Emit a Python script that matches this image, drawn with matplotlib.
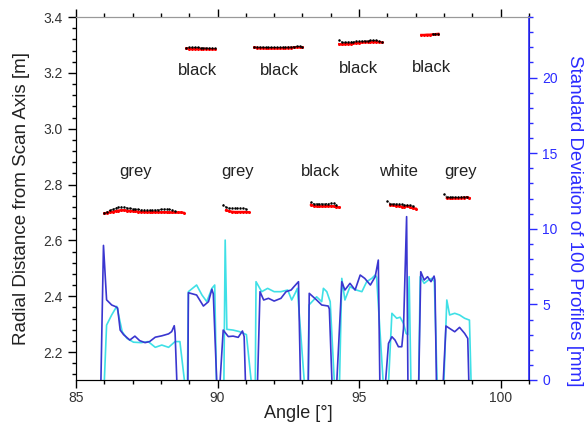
import numpy as np
import matplotlib
matplotlib.use('Agg')
import matplotlib.pyplot as plt
from matplotlib.ticker import MultipleLocator

plt.rcParams['font.family'] = ['Liberation Sans', 'DejaVu Sans']

# radial distance clusters: (start angle, step 0.1 deg, values)
black_clusters = [
    (86.0, [2.698, 2.703, 2.708, 2.712, 2.716, 2.719, 2.720, 2.719, 2.717, 2.715, 2.713, 2.712, 2.711,
            2.710, 2.709, 2.708, 2.708, 2.708, 2.709, 2.710, 2.711, 2.712, 2.712, 2.711, 2.709, 2.706]),
    (90.2, [2.728, 2.718, 2.716, 2.715, 2.715, 2.715, 2.715, 2.715, 2.714]),
    (93.3, [2.737, 2.732, 2.731, 2.731, 2.731, 2.731, 2.732, 2.733, 2.733, 2.728]),
    (96.0, [2.741, 2.732, 2.731, 2.731, 2.730, 2.729, 2.727, 2.726, 2.726, 2.722]),
    (98.0, [2.766, 2.756, 2.755, 2.755, 2.755, 2.755, 2.756, 2.757, 2.757]),
    (88.9, [3.290, 3.291, 3.291, 3.291, 3.291, 3.290, 3.290, 3.289, 3.289, 3.289, 3.288]),
    (91.3, [3.292, 3.292, 3.292, 3.292, 3.291, 3.291, 3.291, 3.291, 3.291, 3.291, 3.292, 3.292,
            3.293, 3.293, 3.294, 3.295, 3.295, 3.293]),
    (94.3, [3.318, 3.309, 3.309, 3.310, 3.311, 3.312, 3.313, 3.313, 3.314, 3.315, 3.315, 3.316,
            3.316, 3.316, 3.314, 3.311]),
    (97.6, [3.339, 3.340, 3.341]),
]
red_clusters = [
    (86.0, [2.697, 2.699, 2.701, 2.703, 2.705, 2.707, 2.708, 2.708, 2.707, 2.706, 2.705, 2.704, 2.703,
            2.702, 2.702, 2.701, 2.701, 2.701, 2.701, 2.701, 2.701, 2.701, 2.701, 2.700, 2.700, 2.700,
            2.700, 2.700, 2.699]),
    (90.3, [2.708, 2.705, 2.703, 2.702, 2.702, 2.702, 2.702, 2.702, 2.701]),
    (93.3, [2.728, 2.724, 2.722, 2.722, 2.722, 2.722, 2.723, 2.723, 2.722, 2.720, 2.718]),
    (96.1, [2.728, 2.725, 2.724, 2.723, 2.721, 2.720, 2.724, 2.718, 2.715, 2.714]),
    (98.1, [2.752, 2.751, 2.751, 2.751, 2.751, 2.752, 2.753, 2.754, 2.752]),
    (88.9, [3.288, 3.287, 3.287, 3.287, 3.287, 3.286, 3.286, 3.286, 3.285, 3.285, 3.285]),
    (91.3, [3.291, 3.290, 3.289, 3.289, 3.288, 3.288, 3.288, 3.288, 3.288, 3.288, 3.289, 3.289,
            3.290, 3.290, 3.291, 3.292, 3.292, 3.292]),
    (94.3, [3.303, 3.302, 3.303, 3.304, 3.305, 3.306, 3.307, 3.308, 3.309, 3.310, 3.311, 3.311,
            3.312, 3.312, 3.311, 3.309]),
    (97.2, [3.336, 3.336, 3.337, 3.337, 3.338, 3.339, 3.340]),
]

# standard deviation curves (-1 = below axis, line leaves the plot)
sd_dark_x = [85.87, 85.97, 86.08, 86.26, 86.4, 86.47, 86.56, 86.68, 86.9, 87.08, 87.25, 87.44, 87.6, 87.8,
             88.03, 88.27, 88.38, 88.47, 88.5, 88.58,
             88.95, 88.97, 89.26, 89.5, 89.68, 89.8, 89.85, 89.99,
             90.06, 90.2, 90.38, 90.55, 90.73, 90.88, 90.94, 91.0,
             91.4, 91.5, 91.63, 91.8, 92.0, 92.24, 92.42, 92.6, 92.7, 92.86, 92.94,
             93.2, 93.24, 93.5, 93.68, 93.91, 93.95, 94.06,
             94.19, 94.39, 94.5, 94.68, 94.86, 95.04, 95.2, 95.4, 95.57, 95.68, 95.74,
             95.9, 96.04, 96.16, 96.27, 96.39, 96.51, 96.57, 96.68, 96.73,
             97.1, 97.18, 97.3, 97.42, 97.54, 97.65, 97.68, 97.74,
             97.95, 98.07, 98.2, 98.38, 98.55, 98.73, 98.84, 98.89]
sd_dark_y = [-1, 8.9, 5.3, 4.96, 4.85, 4.76, 3.3, 3.0, 2.64, 2.9, 2.6, 2.47, 2.54, 2.83,
             2.92, 3.05, 3.2, 3.59, 3.1, -1,
             -1, 5.77, 5.62, 4.89, 5.18, 6.0, 5.7, -1,
             -1, 3.3, 2.87, 2.9, 2.82, 3.24, 2.87, -1,
             -1, 5.84, 5.29, 5.4, 5.22, 5.4, 5.84, 5.95, 6.17, 6.5, -1,
             -1, 5.73, 5.29, 4.96, 4.89, 4.7, -1,
             -1, 6.5, 5.95, 6.39, 5.95, 6.94, 6.72, 6.28, 6.83, 7.93, -1,
             -1, 2.42, 2.86, 2.64, 2.2, 2.2, 3.4, 10.8, -1,
             -1, 7.16, 6.61, 6.83, 6.5, 6.87, 6.6, -1,
             -1, 3.57, 3.41, 3.19, 3.48, 3.08, 2.75, -1]

sd_cyan_x = [85.98, 86.08, 86.26, 86.44, 86.63, 86.8, 87.03, 87.3, 87.55, 87.8, 88.03, 88.27, 88.5, 88.67, 88.89,
             88.93, 88.97, 89.26, 89.45, 89.62, 89.8, 89.9, 89.97,
             90.22, 90.27, 90.33, 90.55, 90.77, 90.9, 91.02, 91.24,
             91.33, 91.36, 91.56, 91.77, 92.0, 92.24, 92.48, 92.62, 92.74, 92.82, 93.1,
             93.2, 93.23, 93.5, 93.68, 93.74, 93.86, 93.98, 94.15,
             94.3, 94.39, 94.5, 94.68, 94.9, 95.1, 95.27, 95.45, 95.57, 95.62, 95.88,
             96.02, 96.16, 96.33, 96.45, 96.57, 96.66, 96.72, 96.77, 96.84,
             97.1, 97.16, 97.3, 97.45, 97.57, 97.66, 97.77,
             97.98, 98.1, 98.2, 98.38, 98.55, 98.73, 98.9, 98.97]
sd_cyan_y = [-1, 3.63, 4.3, 4.87, 3.2, 2.75, 2.5, 2.47, 2.54, 2.16, 2.31, 2.16, 2.54, 2.54, -1,
             -1, 5.84, 6.28, 5.62, 5.18, 6.06, 6.28, -1,
             -1, 9.25, 3.35, 3.3, 3.2, 3.1, 3.0, -1,
             -1, 6.5, 5.84, 6.06, 5.84, 5.84, 5.95, 5.29, 5.73, 6.06, -1,
             -1, 4.96, 5.5, 5.18, 6.06, 5.84, 5.18, -1,
             -1, 6.72, 5.29, 6.17, 5.95, 5.84, 6.5, 6.72, 6.94, 6.8, -1,
             -1, 4.41, 4.08, 4.15, 3.74, 3.08, 3.0, 6.83, -1,
             -1, 6.83, 6.39, 6.61, 6.72, 6.5, -1,
             -1, 5.29, 4.3, 4.41, 4.3, 4.08, 3.96, -1]

labels = ['grey', 'grey', 'black', 'white', 'grey', 'black', 'black', 'black', 'black']
label_x = [87.1, 90.7, 93.65, 96.4, 98.6, 89.3, 92.2, 94.97, 97.55]
label_y = [2.845, 2.845, 2.845, 2.845, 2.845, 3.21, 3.21, 3.215, 3.22]

blue = '#2b2bff'
fig = plt.figure(figsize=(5.87, 4.26), dpi=100)
ax = fig.add_axes([0.1295, 0.108, 0.7715, 0.852])
ax2 = ax.twinx()

for start, vals in red_clusters:
    xs = start + 0.1 * np.arange(len(vals))
    ax.plot(xs, vals, color='red', lw=1.6, marker='o', ms=2.2, mew=0)
for start, vals in black_clusters:
    xs = start + 0.1 * np.arange(len(vals))
    ax.plot(xs, vals, color='black', lw=0.7, ls=':', marker='o', ms=1.8, mew=0)

for t, x, y in zip(labels, label_x, label_y):
    ax.text(x, y, t, ha='center', va='center', fontsize=12, color='#222222')

ax2.plot(sd_cyan_x, sd_cyan_y, color='#3fe0e6', lw=1.2)
ax2.plot(sd_dark_x, sd_dark_y, color='#3a36d0', lw=1.2)

ax.set_xlim(85, 101)
ax.set_ylim(2.1, 3.4)
ax2.set_ylim(0, 24)

ax.xaxis.set_major_locator(MultipleLocator(5))
ax.xaxis.set_minor_locator(MultipleLocator(1))
ax.yaxis.set_major_locator(MultipleLocator(0.2))
ax.yaxis.set_minor_locator(MultipleLocator(0.04))
ax2.yaxis.set_major_locator(MultipleLocator(5))
ax2.yaxis.set_minor_locator(MultipleLocator(1))
ax.yaxis.set_major_formatter(plt.FuncFormatter(lambda v, p: f'{v:.1f}'))

ax.tick_params(axis='both', which='major', labelsize=10, labelcolor='#333333', length=6, width=1)
ax.tick_params(axis='both', which='minor', length=3, width=1)
ax.tick_params(axis='x', top=True, which='both')
ax.tick_params(axis='x', which='major', pad=2)
ax2.tick_params(axis='y', which='major', labelsize=10, colors=blue, length=6, width=1)
ax2.tick_params(axis='y', which='minor', colors=blue, length=3, width=1)

ax.spines['top'].set_color('#999999')
ax2.spines['top'].set_color('#999999')
ax2.spines['right'].set_color(blue)
ax2.spines['right'].set_linewidth(1.2)
ax.spines['left'].set_color('#333333')
ax.spines['bottom'].set_color('#333333')

ax.set_xlabel('Angle [°]', fontsize=13, color='#222222', va='top')
ax.xaxis.set_label_coords(0.49, -0.07)
ax.set_ylabel('Radial Distance from Scan Axis [m]', fontsize=13.5, color='#222222', va='center')
ax.yaxis.set_label_coords(-0.12, 0.5)
ax2.set_ylabel('Standard Deviation of 100 Profiles [mm]', fontsize=13.5, color=blue,
               rotation=-90, va='center')
ax2.yaxis.set_label_coords(1.1, 0.44)

fig.savefig('out.png', dpi=100)
